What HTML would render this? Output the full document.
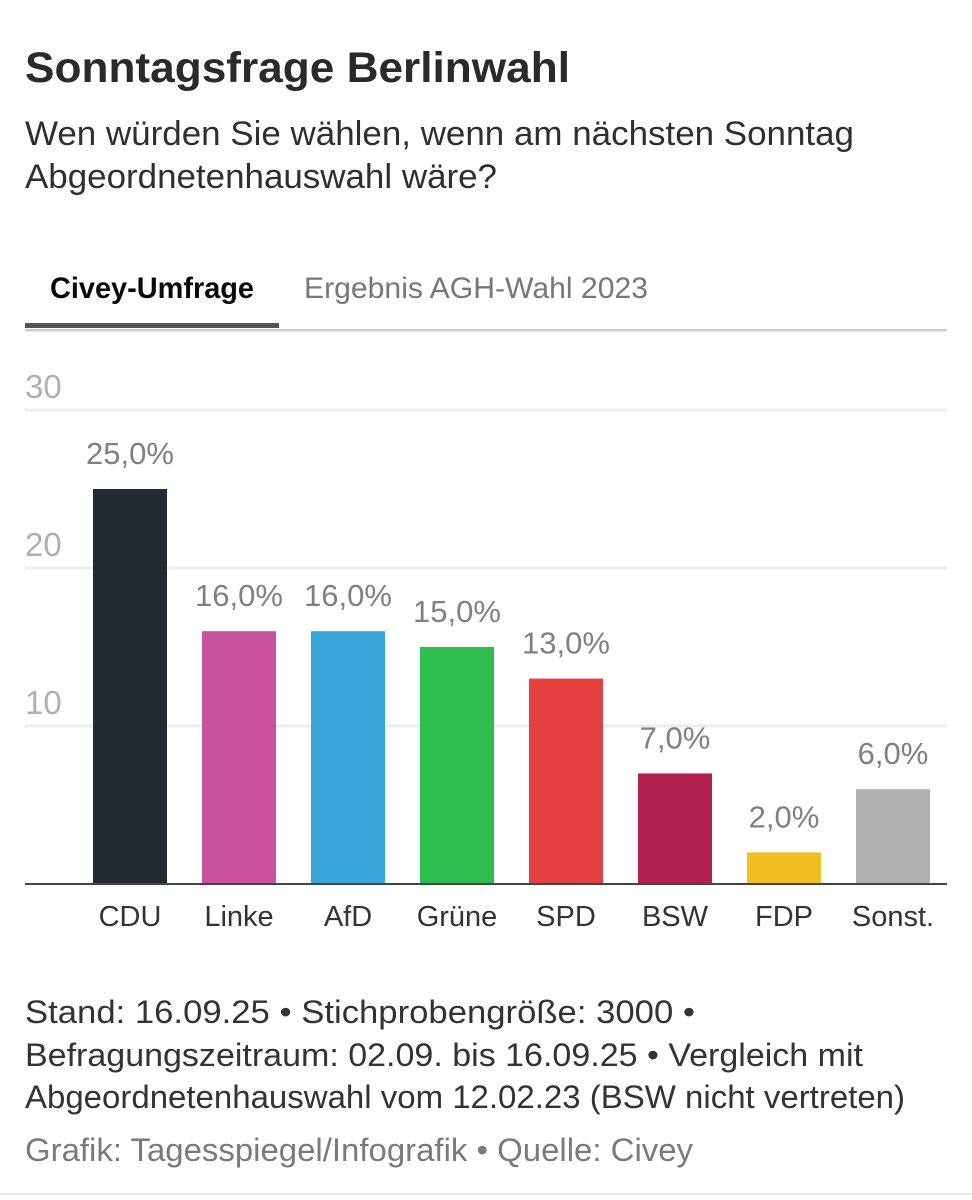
<!DOCTYPE html>
<html lang="de">
<head>
<meta charset="utf-8">
<title>Sonntagsfrage Berlinwahl</title>
<style>
html,body{margin:0;padding:0;background:#fff;}
svg{display:block;font-family:"Liberation Sans",sans-serif;}
</style>
</head>
<body>
<svg id="chart" width="972" height="1200" viewBox="0 0 972 1200" xmlns="http://www.w3.org/2000/svg">
  <text x="25" y="82" font-size="43" font-weight="700" fill="#2a2a2a" textLength="545" lengthAdjust="spacingAndGlyphs">Sonntagsfrage Berlinwahl</text>
  <text x="25" y="145" font-size="34" fill="#2f2f2f" textLength="829" lengthAdjust="spacingAndGlyphs">Wen würden Sie wählen, wenn am nächsten Sonntag</text>
  <text x="25" y="188" font-size="34" fill="#2f2f2f" textLength="472" lengthAdjust="spacingAndGlyphs">Abgeordnetenhauswahl wäre?</text>

  <rect x="25" y="329" width="922" height="2.5" fill="#cfcfcf"/>
  <rect x="25" y="323" width="254" height="5" fill="#555555"/>
  <text x="50" y="298" font-size="30" font-weight="700" fill="#0a0a0a" textLength="204" lengthAdjust="spacingAndGlyphs">Civey-Umfrage</text>
  <text x="304" y="298" font-size="30" fill="#777777" textLength="344" lengthAdjust="spacingAndGlyphs">Ergebnis AGH-Wahl 2023</text>

  <g id="grid"></g>
  <g id="bars"></g>
  <g id="values"></g>
  <rect x="25" y="883" width="922" height="2" fill="#444444"/>
  <g id="cats"></g>

  <text x="25" y="1023" font-size="32" fill="#333333" textLength="670" lengthAdjust="spacingAndGlyphs">Stand: 16.09.25 • Stichprobengröße: 3000 •</text>
  <text x="25" y="1066" font-size="32" fill="#333333" textLength="838" lengthAdjust="spacingAndGlyphs">Befragungszeitraum: 02.09. bis 16.09.25 • Vergleich mit</text>
  <text x="25" y="1108" font-size="32" fill="#333333" textLength="880" lengthAdjust="spacingAndGlyphs">Abgeordnetenhauswahl vom 12.02.23 (BSW nicht vertreten)</text>
  <text x="25" y="1161" font-size="32" fill="#7a7a7a" textLength="668" lengthAdjust="spacingAndGlyphs">Grafik: Tagesspiegel/Infografik • Quelle: Civey</text>
  <rect x="0" y="1193" width="972" height="2" fill="#e6e6e6"/>
</svg>
<script>
const categories = ["CDU", "Linke", "AfD", "Grüne", "SPD", "BSW", "FDP", "Sonst."];
const values = [25, 16, 16, 15, 13, 7, 2, 6];
const valueLabels = ["25,0%", "16,0%", "16,0%", "15,0%", "13,0%", "7,0%", "2,0%", "6,0%"];
const colors = ["#222b33", "#c9529f", "#38a5db", "#2fbd50", "#e54040", "#b2204f", "#f2bf22", "#b0b0b0"];
const yTicks = [10, 20, 30];

const NS = "http://www.w3.org/2000/svg";
const plotLeft = 75.5, plotRight = 947.5, baseY = 884, topY = 410, yMax = 30, barWidth = 74;
const yScale = v => baseY - (v / yMax) * (baseY - topY);
const xCenter = i => plotLeft + (i + 0.5) * (plotRight - plotLeft) / categories.length;
function make(tag, attrs, parent, text) {
  const el = document.createElementNS(NS, tag);
  for (const k in attrs) el.setAttribute(k, attrs[k]);
  if (text !== undefined) el.textContent = text;
  parent.appendChild(el);
  return el;
}
const grid = document.getElementById("grid");
const barsG = document.getElementById("bars");
const valsG = document.getElementById("values");
const catsG = document.getElementById("cats");

yTicks.forEach(t => {
  const line = make("rect", {x: 25, y: yScale(t) - 1.5, width: 922, height: 3, fill: "#ececec"}, grid);
  
  
  const label = make("text", {x: 25, y: yScale(t) - 12, "font-size": 33, fill: "#b0b0b0"}, grid, String(t));
  
  
});

categories.forEach((c, i) => {
  const key = c.toLowerCase().replace(/[^a-zü]/g, "");
  const bar = make("rect", {x: xCenter(i) - barWidth / 2, y: yScale(values[i]), width: barWidth, height: baseY - yScale(values[i]), fill: colors[i]}, barsG);
  
  
  const val = make("text", {x: xCenter(i), y: yScale(values[i]) - 25, "text-anchor": "middle", "font-size": 31, fill: "#808080"}, valsG, valueLabels[i]);
  
  
  const cat = make("text", {x: xCenter(i), y: 926, "text-anchor": "middle", "font-size": 29, fill: "#333333"}, catsG, c);
  
  
});
</script>
</body>
</html>
